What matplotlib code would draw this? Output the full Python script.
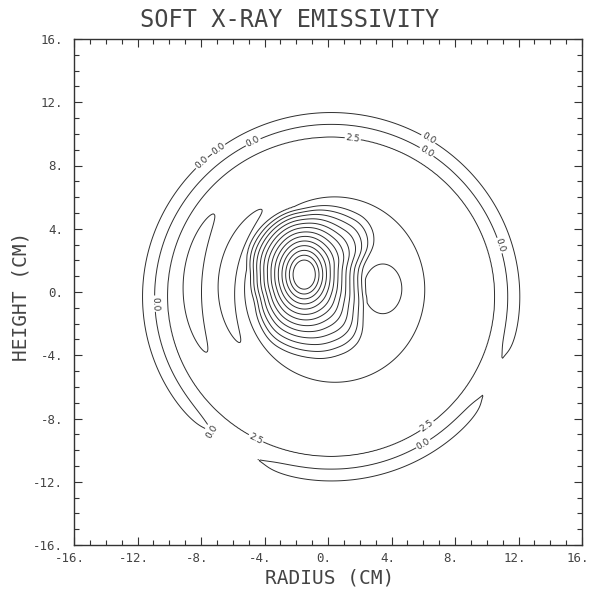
import numpy as np
import matplotlib
matplotlib.use("Agg")
import matplotlib.pyplot as plt
import matplotlib.transforms as mtransforms
from matplotlib.ticker import MultipleLocator

# ---------------- data ----------------
title = "SOFT X-RAY EMISSIVITY"
x_label = "RADIUS (CM)"
y_label = "HEIGHT (CM)"
tick_values = [-16, -12, -8, -4, 0, 4, 8, 12, 16]
tick_labels = ["-16.", "-12.", "-8.", "-4.", "0.", "4.", "8.", "12.", "16."]

contour_levels = [0.0, 2.5, 5.0, 7.5, 10.0, 12.5, 15.0, 17.5, 20.0,
                  22.5, 25.0, 27.5, 30.0, 32.5, 35.0, 37.5]

# central emissivity peak: inner contours are ellipses (semi-axes at unit scale),
# the outermost (kidney) contour follows the outline read below
peak_center = [-1.5, 1.1]
inner_semi_axes = [3.5, 4.6]
kidney_angles_deg = [0, 12, 19, 28, 41.5, 72, 90, 111, 155, 180, 210,
                     244, 270, 285, 303, 313, 323, 346]
kidney_radii = [3.64, 3.91, 4.52, 5.05, 5.28, 4.63, 4.2, 4.09, 3.76, 3.4, 3.6,
                4.8, 5.2, 5.49, 5.61, 5.33, 4.64, 3.81]

# broad disk under the peak (level 5.0 circle)
disk_center = [0.45, 0.15]
disk_y_stretch = 1.035
disk_radius = 5.78
disk_height = 2.5

# small hollow right of the peak
island_center = [3.45, 0.2]
island_sigma = [0.88, 1.16]
island_depth = 2.5

# crescent-shaped side lobes on the left (about disk center)
crescent_radius = [9.0, 6.9]
crescent_angle_deg = [177.0, 171.0]
crescent_width = [0.52, 0.47]
crescent_span_deg = [26.0, 36.0]
crescent_height = [2.8, 2.5]

# radial profile near the wall (about edge center)
edge_center = [0.2, -0.3]
edge_x_stretch = 1.02
edge_r = [0.0, 9.4, 10.1, 10.5, 10.9, 11.25, 11.65, 11.95, 25.0]
edge_v = [3.5, 3.5, 2.5, 1.4, 0.0, -1.0, 0.0, 0.8, 0.8]
# places where the two outer rings pinch together
ring_gap_angles_deg = [238.0, 333.0]
ring_gap_strength = [1.5, 1.5]
ring_gap_width_deg = [9.0, 7.0]

# ---------------- build the field ----------------
xs = np.linspace(-16, 16, 481)
ys = np.linspace(-16, 16, 481)
X, Y = np.meshgrid(xs, ys)

ex = (X - edge_center[0]) / edge_x_stretch
ey = Y - edge_center[1]
re = np.hypot(ex, ey)
the = np.degrees(np.arctan2(ey, ex)) % 360
F = np.interp(re, edge_r, edge_v)
for ga, gs, gw in zip(ring_gap_angles_deg, ring_gap_strength, ring_gap_width_deg):
    dth = ((the - ga + 180) % 360) - 180
    F += gs * np.exp(-0.5 * (dth / gw) ** 2) * np.exp(-0.5 * ((re - 11.25) / 0.3) ** 2)

rd = np.hypot(X - disk_center[0], (Y - disk_center[1]) / disk_y_stretch)
thd = np.degrees(np.arctan2(Y - disk_center[1], X - disk_center[0])) % 360
F += disk_height / (1.0 + np.exp((rd - disk_radius) / 0.3))

rc_ = np.hypot(X - disk_center[0], Y - disk_center[1])
for cr, ca, cw, cs_, ch in zip(crescent_radius, crescent_angle_deg,
                               crescent_width, crescent_span_deg, crescent_height):
    dth = ((thd - ca + 180) % 360) - 180
    F += ch * np.exp(-0.5 * ((rc_ - cr) / cw) ** 2) * np.exp(-0.5 * (dth / cs_) ** 2)

F -= island_depth * np.exp(-0.5 * (((X - island_center[0]) / island_sigma[0]) ** 2
                                   + ((Y - island_center[1]) / island_sigma[1]) ** 2))

# peak: blend ellipse (inside) to kidney outline (outside)
ang_fine = np.arange(0, 360, 1.0)
R_lin = np.interp(ang_fine, kidney_angles_deg, kidney_radii, period=360)
k = 6
R_pad = np.concatenate([R_lin[-k:], R_lin, R_lin[:k]])
R_s = np.convolve(R_pad, np.ones(2 * k + 1) / (2 * k + 1), mode="same")[k:-k]
rx = X - peak_center[0]
ry = Y - peak_center[1]
rp = np.hypot(rx, ry)
thr = np.arctan2(ry, rx)
Rk = np.interp(np.degrees(thr) % 360, ang_fine, R_s, period=360)
Re = 1.0 / np.sqrt((np.cos(thr) / inner_semi_axes[0]) ** 2 +
                   (np.sin(thr) / inner_semi_axes[1]) ** 2)
rho = rp / Re
for _ in range(3):
    w = np.clip((rho - 0.3) / 0.7, 0, 1) ** 1.5
    rho = rp / (Re + w * (Rk - Re))
F += np.clip(37.5 * (1.04 - rho), 0, None)

# ---------------- draw ----------------
fig = plt.figure(figsize=(5.91, 6.0), dpi=100)
ax = fig.add_axes([74 / 591, 1 - 545 / 600, 508 / 591, 506 / 600])

cs = ax.contour(X, Y, F, levels=contour_levels, colors="#2e2e2e", linewidths=0.7)

label_pos = [(-8.25, 8.5), (-6.8, 8.9), (-4.7, 9.45), (1.57, 9.76),
             (6.3, 9.64), (6.3, 9.0), (-6.8, -9.45), (-4.8, -9.7),
             (5.8, -9.26), (6.4, -8.75), (-11.2, -0.75), (10.7, 2.9)]
ax.clabel(cs, levels=[0.0, 2.5], manual=label_pos, fmt="%.1f",
          fontsize=6.5, inline=True, inline_spacing=1, colors="#333333")

ax.set_xlim(-16, 16)
ax.set_ylim(-16, 16)
ax.set_xticks(tick_values)
ax.set_xticklabels(tick_labels)
ax.set_yticks(tick_values)
ax.set_yticklabels(tick_labels)
ax.xaxis.set_minor_locator(MultipleLocator(1))
ax.yaxis.set_minor_locator(MultipleLocator(1))
ax.tick_params(which="both", direction="in", top=True, right=True,
               color="#333333", width=0.8)
ax.tick_params(which="major", length=6)
ax.tick_params(which="minor", length=3.5)
ax.tick_params(axis="x", pad=5)
ax.tick_params(axis="y", pad=8)
shift = mtransforms.ScaledTranslation(-4 / 100, 0, fig.dpi_scale_trans)
for lab in ax.get_xticklabels():
    lab.set_transform(lab.get_transform() + shift)
for lab in ax.get_xticklabels() + ax.get_yticklabels():
    lab.set_fontfamily("DejaVu Sans Mono")
    lab.set_fontsize(9)
    lab.set_color("#444444")
for sp in ax.spines.values():
    sp.set_linewidth(1.0)
    sp.set_color("#333333")

fig.text(290 / 591, 1 - 20 / 600, title, ha="center", va="center",
         family="DejaVu Sans Mono", fontsize=17, color="#444444")
fig.text(330 / 591, 1 - 578 / 600, x_label, ha="center", va="center",
         family="DejaVu Sans Mono", fontsize=14, color="#444444")
fig.text(21 / 591, 1 - 296 / 600, y_label, ha="center", va="center",
         rotation=90, family="DejaVu Sans Mono", fontsize=14, color="#444444")

fig.savefig("out.png", dpi=100)
